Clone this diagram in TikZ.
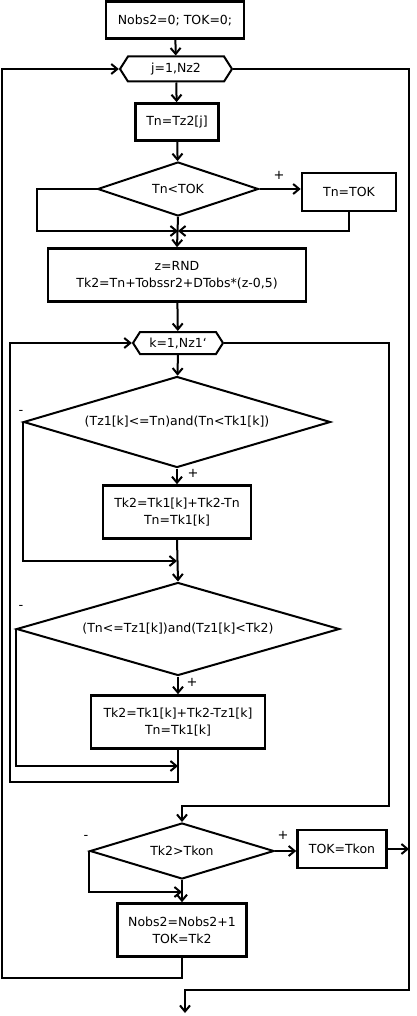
\documentclass[tikz,border=0pt]{standalone}
\usepackage{fontspec}
\setmainfont{DejaVu Sans}
\usetikzlibrary{arrows.meta, positioning, shapes.geometric, shapes.symbols}

\begin{document}
\begin{tikzpicture}[x=1pt, y=-1pt, >={Straight Barb[length=6pt, width=10pt]},
    line width=2pt, font=\fontsize{12.5}{17}\selectfont,
    block/.style={draw, rectangle, line width=2.6pt, inner sep=0pt, align=center},
    test/.style={draw, diamond, aspect=3, inner sep=0pt, align=center},
    cycle/.style={draw, signal, signal to=west and east, signal pointer angle=115, inner sep=0pt},
    sign/.style={font=\fontsize{13}{13}\selectfont, inner sep=0pt}]
    \useasboundingbox (0,0) rectangle (416,1016);
    % Outer loop over j
    \node[block, minimum width=138, minimum height=37] (start) at (175,20) {Nobs2=0; TOK=0;};
    \node[cycle, minimum width=112, minimum height=25] (cj) at (176,69) {j=1,Nz2};
    \node[block, minimum width=83, minimum height=37] (tz) at (177,122) {Tn=Tz2[j]};
    \node[test, minimum width=161, minimum height=54] (d1) at (178,189) {Tn<TOK};
    \node[block, minimum width=94, minimum height=38] (tok) at (349,192) {Tn=TOK};
    \node[block, minimum width=258, minimum height=53] (rnd) at (177,275) {z=RND\\Tk2=Tn+Tobssr2+DTobs*(z-0,5)};
    \coordinate (m1) at (178,231);
    % Inner loop over k
    \node[cycle, minimum width=90, minimum height=22] (ck) at (178,343) {k=1,Nz1`};
    \node[test, minimum width=307, minimum height=91] (d2) at (177,422) {(Tz1[k]<=Tn)and(Tn<Tk1[k])};
    \node[block, minimum width=148, minimum height=53] (b2) at (177,512) {Tk2=Tk1[k]+Tk2-Tn\\Tn=Tk1[k]};
    \coordinate (m2) at (177,561);
    \node[test, minimum width=323, minimum height=93] (d3) at (178,629) {(Tn<=Tz1[k])and(Tz1[k]<Tk2)};
    \node[block, minimum width=174, minimum height=53] (b3) at (178,722) {Tk2=Tk1[k]+Tk2-Tz1[k]\\Tn=Tk1[k]};
    \coordinate (m3) at (178,766);
    \coordinate (kl) at (10,782);
    \coordinate (kr) at (389,806);
    % After the inner loop
    \node[test, minimum width=184, minimum height=56] (d4) at (182,851) {Tk2>Tkon};
    \node[block, minimum width=89, minimum height=38] (tkon) at (342,849) {TOK=Tkon};
    \node[block, minimum width=129, minimum height=53] (b4) at (182,930) {Nobs2=Nobs2+1\\TOK=Tk2};
    \coordinate (m4) at (182,892);
    \coordinate (jl) at (2,978);
    \coordinate (jr) at (409,990);
    \coordinate (stop) at (185,1013);
    % Signs of the branches
    \node[sign] (p1) at (279,175) {+};
    \node[sign] (n2) at (21,412) {-};
    \node[sign] (p2) at (193,473) {+};
    \node[sign] (n3) at (21,607) {-};
    \node[sign] (p3) at (192,682) {+};
    \node[sign] (n4) at (86,837) {-};
    \node[sign] (p4) at (283,835) {+};
    % Connectors
    \draw[->] (start) -- (cj);
    \draw[->] (cj) -- (tz);
    \draw[->] (tz) -- (d1);
    \draw[->] (d1.east) -- (d1.east -| tok.west);
    \draw[->] (d1.west) -- ++(-60,0) |- (m1);
    \draw[->] (tok.south) |- (m1);
    \draw[->] (d1.south) -- (rnd.north);
    \draw[->] (rnd) -- (ck);
    \draw[->] (ck) -- (d2);
    \draw[->] (d2) -- (b2);
    \draw[->] (d2.west) |- (m2);
    \draw[->] (b2.south) -- (d3.north);
    \draw[->] (d3) -- (b3);
    \draw[->] (d3.west) |- (m3);
    \draw[->] (b3.south) |- (kl) |- (ck.west);
    \draw[->] (ck.east) -| (kr) -| (d4.north);
    \draw[->] (d4.east) -- (d4.east -| tkon.west);
    \draw[->] (tkon.east) -- (tkon.east -| jr);
    \draw[->] (d4.west) |- (m4);
    \draw[->] (d4) -- (b4);
    \draw[->] (b4.south) |- (jl) |- (cj.west);
    \draw[->] (cj.east) -| (jr) -| (stop);
\end{tikzpicture}
\end{document}
